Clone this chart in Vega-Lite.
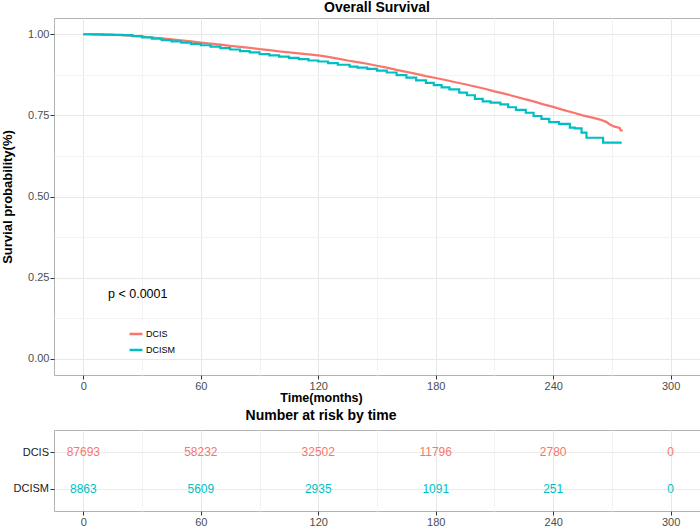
{
  "$schema": "https://vega.github.io/schema/vega-lite/v6.json",
  "padding": {"left": 1, "top": 0, "right": 0, "bottom": 0},
  "background": "white",
  "spacing": 4,
  "config": {
    "font": "Liberation Sans",
    "view": {"stroke": "#b3b3b3", "strokeWidth": 1},
    "axis": {
      "domain": false,
      "tickColor": "#333333",
      "tickSize": 4,
      "labelPadding": 1,
      "labelColor": "#4d4d4d",
      "labelFontSize": 11,
      "labelFont": "Liberation Sans",
      "titleFont": "Liberation Sans",
      "titleFontWeight": "bold",
      "titleColor": "#000000",
      "gridColor": "#ebebeb"
    },
    "title": {"font": "Liberation Sans", "fontSize": 14, "fontWeight": "bold", "color": "#000000"}
  },
  "datasets": {
    "curves": [
      {"group": "DCIS", "time": 0, "surv": 1.0},
      {"group": "DCIS", "time": 5, "surv": 0.9995},
      {"group": "DCIS", "time": 10, "surv": 0.999},
      {"group": "DCIS", "time": 15, "surv": 0.998},
      {"group": "DCIS", "time": 20, "surv": 0.997},
      {"group": "DCIS", "time": 25, "surv": 0.995},
      {"group": "DCIS", "time": 30, "surv": 0.993},
      {"group": "DCIS", "time": 35, "surv": 0.99},
      {"group": "DCIS", "time": 40, "surv": 0.987},
      {"group": "DCIS", "time": 45, "surv": 0.984},
      {"group": "DCIS", "time": 50, "surv": 0.981},
      {"group": "DCIS", "time": 55, "surv": 0.978},
      {"group": "DCIS", "time": 60, "surv": 0.974},
      {"group": "DCIS", "time": 65, "surv": 0.971},
      {"group": "DCIS", "time": 70, "surv": 0.968},
      {"group": "DCIS", "time": 75, "surv": 0.964},
      {"group": "DCIS", "time": 80, "surv": 0.961},
      {"group": "DCIS", "time": 85, "surv": 0.958},
      {"group": "DCIS", "time": 90, "surv": 0.954},
      {"group": "DCIS", "time": 95, "surv": 0.951},
      {"group": "DCIS", "time": 100, "surv": 0.947},
      {"group": "DCIS", "time": 105, "surv": 0.944},
      {"group": "DCIS", "time": 110, "surv": 0.941},
      {"group": "DCIS", "time": 115, "surv": 0.938},
      {"group": "DCIS", "time": 120, "surv": 0.935},
      {"group": "DCIS", "time": 125, "surv": 0.93},
      {"group": "DCIS", "time": 130, "surv": 0.925},
      {"group": "DCIS", "time": 135, "surv": 0.919},
      {"group": "DCIS", "time": 140, "surv": 0.914},
      {"group": "DCIS", "time": 145, "surv": 0.909},
      {"group": "DCIS", "time": 150, "surv": 0.903},
      {"group": "DCIS", "time": 155, "surv": 0.897},
      {"group": "DCIS", "time": 160, "surv": 0.89},
      {"group": "DCIS", "time": 165, "surv": 0.884},
      {"group": "DCIS", "time": 170, "surv": 0.878},
      {"group": "DCIS", "time": 175, "surv": 0.871},
      {"group": "DCIS", "time": 180, "surv": 0.865},
      {"group": "DCIS", "time": 185, "surv": 0.859},
      {"group": "DCIS", "time": 190, "surv": 0.852},
      {"group": "DCIS", "time": 195, "surv": 0.846},
      {"group": "DCIS", "time": 200, "surv": 0.839},
      {"group": "DCIS", "time": 205, "surv": 0.832},
      {"group": "DCIS", "time": 210, "surv": 0.824},
      {"group": "DCIS", "time": 215, "surv": 0.817},
      {"group": "DCIS", "time": 220, "surv": 0.809},
      {"group": "DCIS", "time": 225, "surv": 0.801},
      {"group": "DCIS", "time": 230, "surv": 0.793},
      {"group": "DCIS", "time": 235, "surv": 0.784},
      {"group": "DCIS", "time": 240, "surv": 0.776},
      {"group": "DCIS", "time": 245, "surv": 0.767},
      {"group": "DCIS", "time": 250, "surv": 0.759},
      {"group": "DCIS", "time": 255, "surv": 0.75},
      {"group": "DCIS", "time": 260, "surv": 0.743},
      {"group": "DCIS", "time": 264, "surv": 0.737},
      {"group": "DCIS", "time": 267, "surv": 0.73},
      {"group": "DCIS", "time": 269, "surv": 0.722},
      {"group": "DCIS", "time": 271, "surv": 0.716},
      {"group": "DCIS", "time": 274, "surv": 0.711},
      {"group": "DCIS", "time": 274.5, "surv": 0.704},
      {"group": "DCIS", "time": 275.5, "surv": 0.704},
      {"group": "DCISM", "time": 0, "surv": 1.0},
      {"group": "DCISM", "time": 5, "surv": 0.9995},
      {"group": "DCISM", "time": 10, "surv": 0.999},
      {"group": "DCISM", "time": 15, "surv": 0.998},
      {"group": "DCISM", "time": 20, "surv": 0.997},
      {"group": "DCISM", "time": 25, "surv": 0.994},
      {"group": "DCISM", "time": 30, "surv": 0.99},
      {"group": "DCISM", "time": 35, "surv": 0.986},
      {"group": "DCISM", "time": 40, "surv": 0.982},
      {"group": "DCISM", "time": 45, "surv": 0.978},
      {"group": "DCISM", "time": 50, "surv": 0.974},
      {"group": "DCISM", "time": 55, "surv": 0.97},
      {"group": "DCISM", "time": 60, "surv": 0.966},
      {"group": "DCISM", "time": 65, "surv": 0.962},
      {"group": "DCISM", "time": 70, "surv": 0.957},
      {"group": "DCISM", "time": 75, "surv": 0.953},
      {"group": "DCISM", "time": 80, "surv": 0.948},
      {"group": "DCISM", "time": 85, "surv": 0.944},
      {"group": "DCISM", "time": 90, "surv": 0.939},
      {"group": "DCISM", "time": 95, "surv": 0.935},
      {"group": "DCISM", "time": 100, "surv": 0.931},
      {"group": "DCISM", "time": 105, "surv": 0.927},
      {"group": "DCISM", "time": 110, "surv": 0.923},
      {"group": "DCISM", "time": 115, "surv": 0.919},
      {"group": "DCISM", "time": 120, "surv": 0.916},
      {"group": "DCISM", "time": 125, "surv": 0.911},
      {"group": "DCISM", "time": 130, "surv": 0.906},
      {"group": "DCISM", "time": 136, "surv": 0.9},
      {"group": "DCISM", "time": 140, "surv": 0.897},
      {"group": "DCISM", "time": 145, "surv": 0.893},
      {"group": "DCISM", "time": 150, "surv": 0.888},
      {"group": "DCISM", "time": 155, "surv": 0.882},
      {"group": "DCISM", "time": 160, "surv": 0.874},
      {"group": "DCISM", "time": 165, "surv": 0.866},
      {"group": "DCISM", "time": 170, "surv": 0.858},
      {"group": "DCISM", "time": 175, "surv": 0.85},
      {"group": "DCISM", "time": 179, "surv": 0.843},
      {"group": "DCISM", "time": 183, "surv": 0.836},
      {"group": "DCISM", "time": 187, "surv": 0.83},
      {"group": "DCISM", "time": 192, "surv": 0.82},
      {"group": "DCISM", "time": 196, "surv": 0.812},
      {"group": "DCISM", "time": 200, "surv": 0.801},
      {"group": "DCISM", "time": 204, "surv": 0.793},
      {"group": "DCISM", "time": 208, "surv": 0.789},
      {"group": "DCISM", "time": 213, "surv": 0.784},
      {"group": "DCISM", "time": 217, "surv": 0.775},
      {"group": "DCISM", "time": 221, "surv": 0.767},
      {"group": "DCISM", "time": 226, "surv": 0.758},
      {"group": "DCISM", "time": 230, "surv": 0.748},
      {"group": "DCISM", "time": 234, "surv": 0.739},
      {"group": "DCISM", "time": 238, "surv": 0.729},
      {"group": "DCISM", "time": 243, "surv": 0.724},
      {"group": "DCISM", "time": 248.5, "surv": 0.712},
      {"group": "DCISM", "time": 251, "surv": 0.71},
      {"group": "DCISM", "time": 254.5, "surv": 0.697},
      {"group": "DCISM", "time": 257, "surv": 0.681},
      {"group": "DCISM", "time": 265.5, "surv": 0.666},
      {"group": "DCISM", "time": 275, "surv": 0.666}
    ],
    "annot": [
      {"label": "p < 0.0001", "time": 12.6, "surv": 0.2}
    ],
    "risk": [
      {"group": "DCIS", "time": 0, "n": 87693},
      {"group": "DCIS", "time": 60, "n": 58232},
      {"group": "DCIS", "time": 120, "n": 32502},
      {"group": "DCIS", "time": 180, "n": 11796},
      {"group": "DCIS", "time": 240, "n": 2780},
      {"group": "DCIS", "time": 300, "n": 0},
      {"group": "DCISM", "time": 0, "n": 8863},
      {"group": "DCISM", "time": 60, "n": 5609},
      {"group": "DCISM", "time": 120, "n": 2935},
      {"group": "DCISM", "time": 180, "n": 1091},
      {"group": "DCISM", "time": 240, "n": 251},
      {"group": "DCISM", "time": 300, "n": 0}
    ]
  },
  "vconcat": [
    {
      "width": 646,
      "height": 357,
      "title": {"text": "Overall Survival", "offset": 3},
      "encoding": {
        "x": {
          "field": "time", "type": "quantitative",
          "scale": {"domain": [-15, 315], "nice": false, "zero": false},
          "axis": {
            "values": [0, 30, 60, 90, 120, 150, 180, 210, 240, 270, 300],
            "title": "Time(months)",
            "titleFontSize": 12.5,
            "titleX": 267,
            "titlePadding": 0,
            "labelExpr": "datum.value % 60 === 0 ? datum.label : ''",
            "tickOpacity": {"condition": {"test": "datum.value % 60 === 0", "value": 1}, "value": 0},
            "gridColor": {"condition": {"test": "datum.value % 60 === 0", "value": "#e8e8e8"}, "value": "#f3f3f3"}
          }
        },
        "y": {
          "field": "surv", "type": "quantitative",
          "scale": {"domain": [-0.05, 1.05], "nice": false, "zero": false},
          "axis": {
            "values": [0, 0.125, 0.25, 0.375, 0.5, 0.625, 0.75, 0.875, 1],
            "format": ".2f",
            "title": "Survial probability(%)",
            "titleFontSize": 13,
            "titlePadding": 13,
            "labelExpr": "datum.value % 0.25 === 0 ? datum.label : ''",
            "tickOpacity": {"condition": {"test": "datum.value % 0.25 === 0", "value": 1}, "value": 0},
            "gridColor": {"condition": {"test": "datum.value % 0.25 === 0", "value": "#e8e8e8"}, "value": "#f3f3f3"}
          }
        }
      },
      "layer": [
        {
          "data": {"name": "curves"},
          "transform": [{"filter": "datum.group === 'DCIS'"}],
          "mark": {"type": "line", "interpolate": "linear", "strokeWidth": 2.2},
          "encoding": {
            "color": {
              "field": "group", "type": "nominal",
              "scale": {"domain": ["DCIS", "DCISM"], "range": ["#F8766D", "#00BFC4"]},
              "legend": {
                "title": null,
                "orient": "none",
                "legendX": 70,
                "legendY": 304,
                "symbolType": "stroke",
                "symbolSize": 169,
                "symbolStrokeWidth": 2.5,
                "labelFontSize": 9,
                "labelColor": "#000000",
                "labelOffset": 2,
                "fillColor": "white",
                "padding": 4,
                "rowPadding": 3
              }
            }
          }
        },
        {
          "data": {"name": "curves"},
          "transform": [{"filter": "datum.group === 'DCISM'"}],
          "mark": {"type": "line", "interpolate": "step-after", "strokeWidth": 2.2},
          "encoding": {
            "color": {
              "field": "group", "type": "nominal",
              "scale": {"domain": ["DCIS", "DCISM"], "range": ["#F8766D", "#00BFC4"]}
            }
          }
        },
        {
          "data": {"name": "annot"},
          "mark": {"type": "text", "align": "left", "baseline": "middle", "fontSize": 12.5, "color": "#000000"},
          "encoding": {
            "text": {"field": "label", "type": "nominal"}
          }
        }
      ]
    },
    {
      "width": 646,
      "height": 81,
      "title": {"text": "Number at risk by time", "dx": -56, "offset": 7},
      "data": {"name": "risk"},
      "mark": {"type": "text", "fontSize": 12, "baseline": "middle"},
      "encoding": {
        "x": {
          "field": "time", "type": "quantitative",
          "scale": {"domain": [-15, 315], "nice": false, "zero": false},
          "axis": {
            "values": [0, 30, 60, 90, 120, 150, 180, 210, 240, 270, 300],
            "title": null,
            "labelExpr": "datum.value % 60 === 0 ? datum.label : ''",
            "tickOpacity": {"condition": {"test": "datum.value % 60 === 0", "value": 1}, "value": 0},
            "gridColor": {"condition": {"test": "datum.value % 60 === 0", "value": "#e8e8e8"}, "value": "#f3f3f3"}
          }
        },
        "y": {
          "field": "group", "type": "nominal",
          "scale": {"type": "point", "padding": 0.6, "domain": ["DCIS", "DCISM"]},
          "axis": {"title": null, "labelColor": "#1a1a1a", "labelPadding": 1.5, "grid": true}
        },
        "color": {
          "field": "group", "type": "nominal",
          "scale": {"domain": ["DCIS", "DCISM"], "range": ["#F8766D", "#00BFC4"]},
          "legend": null
        },
        "text": {"field": "n", "type": "nominal"}
      }
    }
  ],
  "resolve": {"scale": {"color": "independent"}, "legend": {"color": "independent"}}
}
